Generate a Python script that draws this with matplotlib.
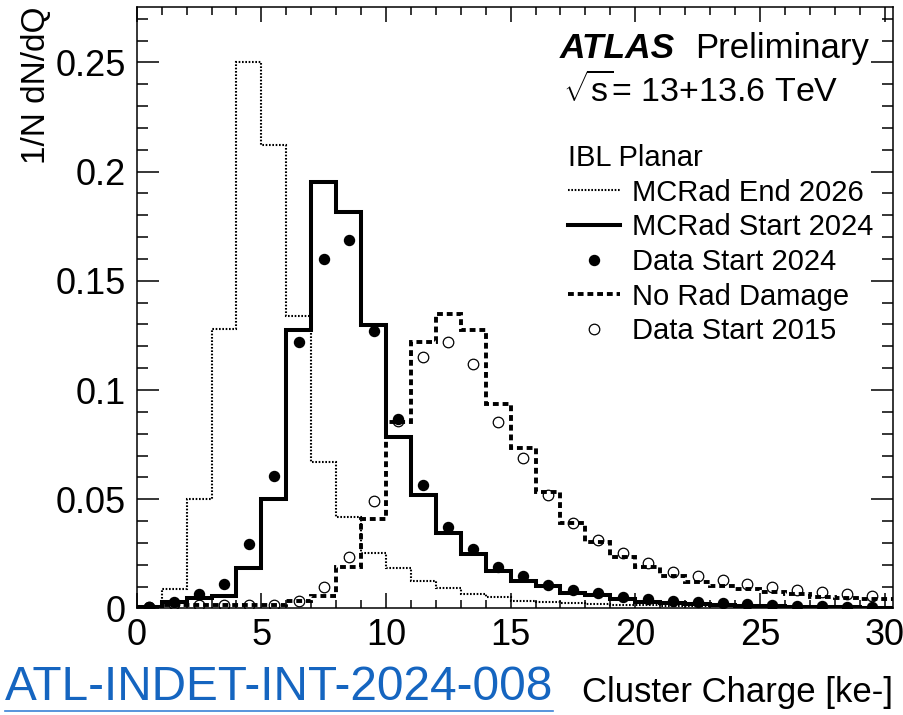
import numpy as np
import matplotlib
matplotlib.use("Agg")
import matplotlib.pyplot as plt
from matplotlib.lines import Line2D
from matplotlib.ticker import MultipleLocator, FuncFormatter

plt.rcParams['font.family'] = ['Liberation Sans', 'DejaVu Sans']
plt.rcParams['mathtext.fontset'] = 'custom'
plt.rcParams['mathtext.rm'] = 'Liberation Sans'
plt.rcParams['mathtext.it'] = 'Liberation Sans:italic'
plt.rcParams['mathtext.bf'] = 'Liberation Sans:bold'

# cluster charge binning [ke-], 1 ke- wide bins
bin_edges = np.arange(0, 32)

# simulated IBL planar cluster charge, normalised
mcrad_end_2026 = [0.0005, 0.009, 0.050, 0.128, 0.250, 0.212, 0.134, 0.067, 0.042, 0.0253,
                  0.0187, 0.0126, 0.0095, 0.0066, 0.0051, 0.0036, 0.0028, 0.0024, 0.0020, 0.0016,
                  0.0014, 0.0012, 0.0010, 0.0009, 0.0008, 0.0007, 0.0006, 0.0005, 0.0005, 0.0004,
                  0.0004]
mcrad_start_2024 = [0.0008, 0.0030, 0.0047, 0.0059, 0.0184, 0.050, 0.1275, 0.1954, 0.1817, 0.1298,
                    0.0787, 0.052, 0.0344, 0.0248, 0.0173, 0.0127, 0.0104, 0.0069, 0.0062, 0.0042,
                    0.0031, 0.0024, 0.0019, 0.0015, 0.0012, 0.0010, 0.0008, 0.0006, 0.0005, 0.0004,
                    0.0003]
no_rad_damage = [0.0005, 0.0016, 0.0016, 0.0017, 0.0018, 0.0018, 0.0034, 0.0056, 0.019, 0.041,
                 0.0855, 0.122, 0.1348, 0.1275, 0.0936, 0.0736, 0.0535, 0.039, 0.0306, 0.0234,
                 0.0189, 0.0149, 0.0123, 0.0104, 0.0089, 0.0074, 0.0065, 0.0054, 0.0049, 0.0042,
                 0.0042]

# measured cluster charge, one value per bin centre
data_start_2024 = [0.0006, 0.0030, 0.0066, 0.0112, 0.0295, 0.0608, 0.1222, 0.160, 0.1686, 0.1272,
                   0.0869, 0.0564, 0.0375, 0.0271, 0.0189, 0.0149, 0.0108, 0.0085, 0.0070, 0.0051,
                   0.0042, 0.0033, 0.0028, 0.0024, 0.0019, 0.0015, 0.0011, 0.0009, 0.0007, 0.0005]
data_start_2015 = [0.0005, 0.0020, 0.0016, 0.0016, 0.0016, 0.0016, 0.0035, 0.0100, 0.0237, 0.0494,
                   0.086, 0.115, 0.1222, 0.112, 0.0855, 0.069, 0.052, 0.039, 0.0314, 0.0253,
                   0.0207, 0.0169, 0.0149, 0.0130, 0.0112, 0.0097, 0.0085, 0.0074, 0.0066, 0.0057]

labels = ['MCRad End 2026', 'MCRad Start 2024', 'Data Start 2024', 'No Rad Damage', 'Data Start 2015']

centres = 0.5 * (bin_edges[:-1] + bin_edges[1:])
n_pts = len(data_start_2024)

# line styles
dotted = dict(color='k', lw=1.5, linestyle=(0, (0.8, 0.8)))
solid = dict(color='k', lw=2.9, linestyle='-')
dashed = dict(color='k', lw=2.8, linestyle=(0, (1.5, 1.0)))
filled = dict(ls='none', marker='o', color='k', ms=7.2)
hollow = dict(ls='none', marker='o', mfc='none', mec='k', mew=0.9, ms=7.6)

fig = plt.figure(figsize=(9.04, 7.15), dpi=100)
ax = fig.add_axes([0.1513, 0.1490, 0.8368, 0.8417])

ax.stairs(mcrad_end_2026, bin_edges, baseline=None, zorder=2, **dotted)
ax.stairs(no_rad_damage, bin_edges, baseline=None, zorder=2, **dashed)
ax.stairs(mcrad_start_2024, bin_edges, baseline=None, zorder=3, **solid)
ax.plot(centres[:n_pts], data_start_2015, zorder=4, **hollow)
ax.plot(centres[:n_pts], data_start_2024, zorder=5, **filled)

ax.set_xlim(0, 30.35)
ax.set_ylim(0, 0.2755)
ax.xaxis.set_major_locator(MultipleLocator(5))
ax.xaxis.set_minor_locator(MultipleLocator(1))
ax.yaxis.set_major_locator(MultipleLocator(0.05))
ax.yaxis.set_minor_locator(MultipleLocator(0.01))
ax.yaxis.set_major_formatter(FuncFormatter(lambda v, p: '%g' % round(v, 3)))

ax.tick_params(which='both', direction='in', top=True, right=True, width=1.1)
ax.tick_params(axis='x', which='major', length=11, pad=7, labelsize=26)
ax.tick_params(axis='x', which='minor', length=5.5)
ax.tick_params(axis='y', which='major', length=16, pad=8, labelsize=26)
ax.tick_params(axis='y', which='minor', length=8)
for sp in ax.spines.values():
    sp.set_linewidth(1.1)

ax.set_ylabel('1/N dN/dQ', loc='top', fontsize=24)
ax.yaxis.set_label_coords(-0.112, 1.0)
ax.set_xlabel('Cluster Charge [ke-]', loc='right', fontsize=25)
ax.xaxis.set_label_coords(1.0, -0.113)
ax.xaxis.label.set_va('top')

ax.text(0.5594, 0.9145, 'ATLAS', transform=ax.transAxes, fontsize=25.5,
        fontweight='bold', fontstyle='italic', va='baseline')
ax.text(0.7379, 0.9145, 'Preliminary', transform=ax.transAxes, fontsize=25, va='baseline')
ax.text(0.5630, 0.8421, r'$\sqrt{\mathrm{s}}$= 13+13.6 TeV', transform=ax.transAxes,
        fontsize=24.5, va='baseline')

handles = [Line2D([], [], **dotted), Line2D([], [], **solid), Line2D([], [], **filled),
           Line2D([], [], **dashed), Line2D([], [], **hollow)]
ax.legend(handles, labels, title='IBL Planar', loc='upper left',
          bbox_to_anchor=(0.5700, 0.7720), frameon=False, fontsize=21, title_fontsize=21,
          alignment='left', borderpad=0, borderaxespad=0, handlelength=1.8,
          handletextpad=0.4, labelspacing=0.23)

# note reference, underlined like a link
ref = fig.text(5 / 904, 1 - 688 / 715, 'ATL-INDET-INT-2024-008', color='#1565c0',
               fontsize=34.4, va='center', ha='left')
fig.canvas.draw()
bb = ref.get_window_extent()
W = fig.bbox.width
fig.add_artist(Line2D([bb.x0 / W, bb.x1 / W], [1 - 711 / 715] * 2, transform=fig.transFigure,
                      color='#3b82d6', lw=1.2))

fig.savefig('out.png', dpi=100)
